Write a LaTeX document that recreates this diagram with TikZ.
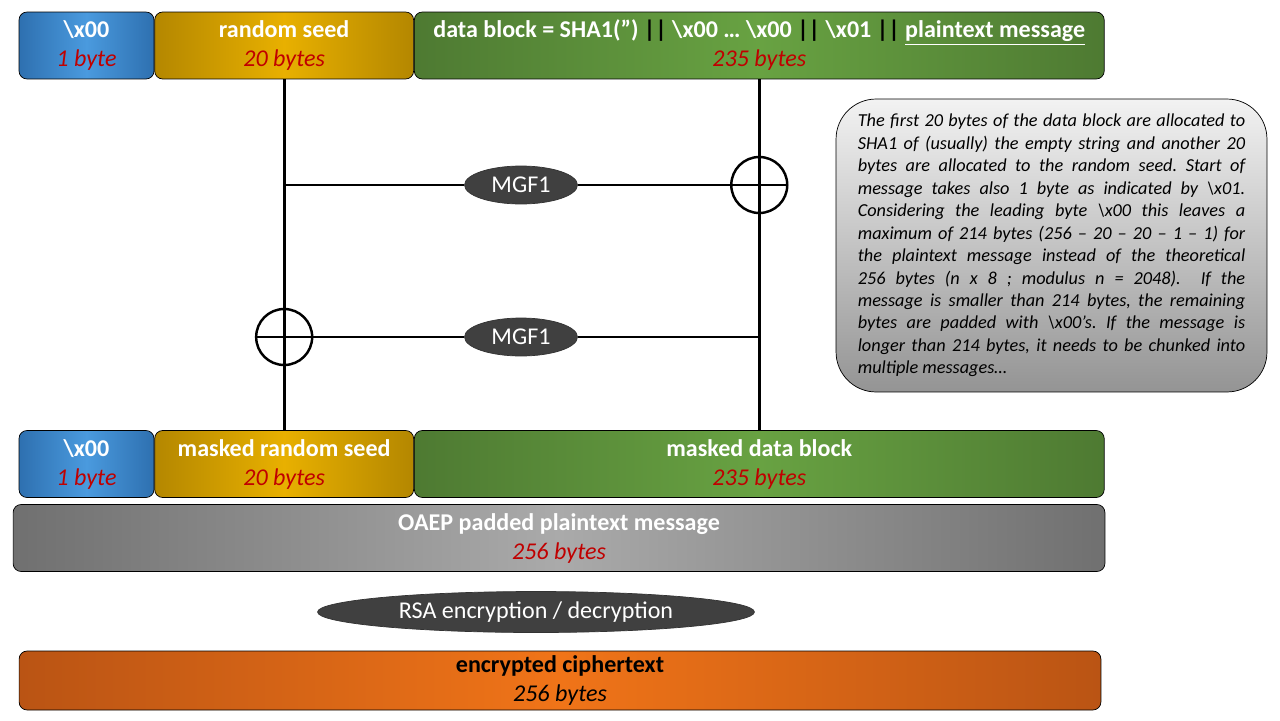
\documentclass[tikz,border=0pt]{standalone}
\usepackage{fontspec}
\setmainfont{Carlito}
\usepackage{tikz}
\usetikzlibrary{positioning,shapes.geometric}
\definecolor{bluee}{RGB}{46,112,176}
\definecolor{bluem}{RGB}{74,154,222}
\definecolor{golde}{RGB}{180,135,0}
\definecolor{goldm}{RGB}{232,176,0}
\definecolor{greene}{RGB}{78,122,50}
\definecolor{greenm}{RGB}{104,162,66}
\definecolor{graye}{RGB}{112,112,112}
\definecolor{graym}{RGB}{170,170,170}
\definecolor{orangee}{RGB}{186,84,20}
\definecolor{orangem}{RGB}{240,116,24}
\definecolor{ovalgray}{RGB}{64,64,64}
\definecolor{bytered}{RGB}{192,0,0}
\tikzset{
  field/.style 2 args={draw=black,rounded corners=0.16cm,inner sep=0pt,
    minimum height=1.34cm,align=center,
    left color=#1,right color=#1,middle color=#2,
    font=\fontsize{13.7}{16.5}\selectfont}}
\tikzset{
  oval/.style={ellipse,fill=ovalgray,draw=black!80,inner sep=0pt,
    text=white,font=\fontsize{13.7}{15}\selectfont}}
\tikzset{
  xor/.style={circle,draw,line width=1.4pt,minimum size=1.12cm,inner sep=0pt,
    path picture={
      \draw[line width=1.4pt] (path picture bounding box.north) -- (path picture bounding box.south)
        (path picture bounding box.west) -- (path picture bounding box.east);
   }}}
\tikzset{wire/.style={line width=1.6pt}}
\tikzset{
  note/.style={draw=black,rounded corners=0.8cm,
    top color=white!95!black,bottom color=black!42,
    minimum width=8.62cm,minimum height=5.86cm,text width=7.75cm,
    align=justify,inner sep=0pt,font=\fontsize{10.4}{12.8}\selectfont\itshape\frenchspacing}}
\newcommand{\fld}[2]{{\bfseries\color{white}#1}\\{\itshape\color{bytered}#2}}
\newcommand{\bars}{{\color{black}||}}

\begin{document}
\begin{tikzpicture}[x=0.02cm,y=-0.02cm]
    \useasboundingbox[fill=white] (0,0) rectangle (1280,720);
    % input block
    \node[field={bluee}{bluem},minimum width=2.7cm] (zero) at (86.5,45.5)
        {\fld{\textbackslash x00}{1 byte}};
    \node[field={golde}{goldm},minimum width=5.18cm,right=0pt of zero] (seed)
        {\fld{random seed}{20 bytes}};
    \node[field={greene}{greenm},minimum width=13.8cm,right=0pt of seed] (data)
        {\fld{data block = SHA1(”) \bars{} \textbackslash x00 … \textbackslash x00 \bars{} \textbackslash x01 \bars{} \underline{plaintext message}}{235 bytes}};
    % masked block
    \node[field={bluee}{bluem},minimum width=2.7cm] (mzero) at (86.5,464)
        {\fld{\textbackslash x00}{1 byte}};
    \node[field={golde}{goldm},minimum width=5.18cm,right=0pt of mzero] (mseed)
        {\fld{masked random seed}{20 bytes}};
    \node[field={greene}{greenm},minimum width=13.8cm,right=0pt of mseed] (mdata)
        {\fld{masked data block}{235 bytes}};
    \node[field={graye}{graym},minimum width=21.84cm] (oaep) at (559,538)
        {\fld{OAEP padded plaintext message}{256 bytes}};
    \node[oval,minimum width=8.74cm,minimum height=0.82cm] (rsa) at (536,612)
        {RSA encryption / decryption};
    \node[field={orangee}{orangem},minimum width=21.64cm,minimum height=1.18cm] (cipher) at (560,680.5)
        {{\bfseries encrypted ciphertext}\\{\itshape 256 bytes}};
    % mask generation
    \node[oval,minimum width=2.26cm,minimum height=0.76cm] (mgfa) at (521,185) {MGF1};
    \node[oval,minimum width=2.26cm,minimum height=0.76cm] (mgfb) at (521,337) {MGF1};
    \node[xor] (xora) at (data.south |- mgfa) {};
    \node[xor] (xorb) at (seed.south |- mgfb) {};
    \coordinate (ta) at (seed.south |- mgfa);
    \coordinate (tb) at (data.south |- mgfb);
    \draw[wire] (seed) -- (mseed);
    \draw[wire] (data) -- (mdata);
    \draw[wire] (ta) -- (mgfa) (mgfa) -- (xora);
    \draw[wire] (xorb) -- (mgfb) (mgfb) -- (tb);
    \node[note] (text) at (1051.5,245.5)
        {The first 20 bytes of the data block are allocated to\linebreak
        SHA1 of (usually) the empty string and another 20\linebreak
        bytes are allocated to the random seed. Start of\linebreak
        message takes also 1 byte as indicated by \textbackslash x01.\linebreak
        Considering the leading byte \textbackslash x00 this leaves a\linebreak
        maximum of 214 bytes (256 – 20 – 20 – 1 – 1) for\linebreak
        the plaintext message instead of the theoretical\linebreak
        256 bytes (n x 8 ; modulus n = 2048).~ If the\linebreak
        message is smaller than 214 bytes, the remaining\linebreak
        bytes are padded with \textbackslash x00’s. If the message is\linebreak
        longer than 214 bytes, it needs to be chunked into\linebreak
        multiple messages…};
\end{tikzpicture}
\end{document}
